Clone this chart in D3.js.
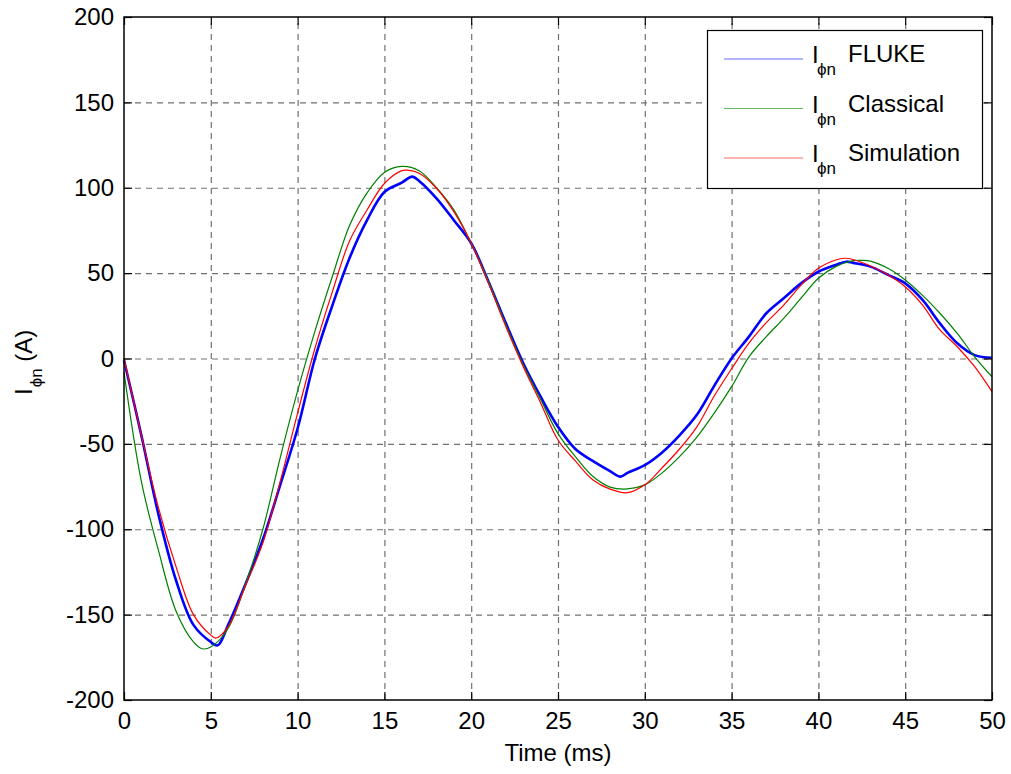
<!DOCTYPE html>
<html><head><meta charset="utf-8">
<script src="https://cdn.jsdelivr.net/npm/d3@7"></script>
<style>
body{margin:0;background:#fff}
svg{display:block}
text{font-family:"Liberation Sans",Arial,Helvetica,sans-serif;fill:#000}
</style>
</head><body>
<svg id="chart" width="1011" height="774"></svg>
<script>
// ---- data ----
const xTicks = [0,5,10,15,20,25,30,35,40,45,50];
const yTicks = [-200,-150,-100,-50,0,50,100,150,200];

const flukeT = [0,1,2,3,4,5,5.4,6,7,8,9,10,11,12,13,14,15,16,16.6,17,18,19,20,21,22,23,24,25,26,27,28,28.6,29,30,31,32,33,34,35,36,37,38,39,40,41,41.6,42,43,44,45,46,47,48,49,50];
const flukeI = [-1,-45,-92,-130,-156,-166,-168,-156,-132,-106,-74,-41,0,31,59,81,97.5,103,106.5,104,93.8,81,67.5,45,20.6,-2.8,-22.4,-40,-53,-60,-66,-69.2,-67,-62.4,-55,-45,-33,-16,0,12.8,26.5,35.3,44,50.8,54.8,56.7,56,53.8,49,44,34.3,20.6,8.9,2,0.4];

const classicalT = [0,1,2,3,4,4.5,5,6,7,8,9,10,11,12,13,14,15,16,17,18,19,20,21,22,23,24,25,26,27,28,29,30,31,32,33,34,35,36,37,38,39,40,41,42,42.5,43,44,45,46,47,48,49,50];
const classicalI = [-8,-72,-113,-148,-166,-170,-169,-158,-132,-100,-58,-19,16,48,78,97,109,112.5,110,100,87,67.5,45,19.6,-3.8,-24,-44,-57.5,-69,-75.3,-76.4,-74,-67,-57.5,-46,-32,-16.5,1,12.8,23.5,35.3,47,53.8,57.3,57.5,57,52.8,46,37,26.5,14.7,1,-10.7];

const simT = [0,1,2,3,4,5,5.3,6,7,8,9,10,11,12,13,14,15,16,16.3,17,18,19,20,21,22,23,24,25,26,27,28,29,30,31,32,33,34,35,36,37,38,39,40,41,41.5,42,43,44,45,46,47,48,49,50];
const simI = [0,-45,-88,-122,-150,-162,-163.7,-157,-133,-108,-72,-32,6,39,69,87,102.5,110,110.3,108.5,99.7,86,67.5,44,18.6,-4.8,-26,-47.7,-60,-71,-76.5,-78.6,-74,-64,-53,-40,-22,-6,9,21,31.3,43,52.8,57.7,58.7,58,54.2,49,42,31.3,16.7,6.9,-4.8,-19.4];

const seriesNames = ["FLUKE","Classical","Simulation"];
const seriesColors = ["#0000ff","#008000","#ff0000"];

// ---- layout ----
const pL = 124, pR = 992, pT = 17, pB = 700;
const svg = d3.select("#chart");
const x = d3.scaleLinear().domain([0,50]).range([pL,pR]);
const y = d3.scaleLinear().domain([-200,200]).range([pB,pT]);

// grid
const grid = svg.append("g");
grid.append("g").attr("transform",`translate(0,${pB})`)
  .call(d3.axisBottom(x).tickValues(xTicks.slice(1,-1)).tickSize(-(pB-pT)).tickFormat(""))
  .call(g=>g.select(".domain").remove());
grid.append("g").attr("transform",`translate(${pL},0)`)
  .call(d3.axisLeft(y).tickValues(yTicks.slice(1,-1)).tickSize(-(pR-pL)).tickFormat(""))
  .call(g=>g.select(".domain").remove());
grid.selectAll("line").attr("stroke","#707070").attr("stroke-width",1.2).attr("stroke-dasharray","6,5");

// series
const line = d3.line().x(d=>x(d[0])).y(d=>y(d[1])).curve(d3.curveCatmullRom.alpha(0.5));
const seriesData = [
  d3.zip(flukeT, flukeI),
  d3.zip(classicalT, classicalI),
  d3.zip(simT, simI)
];
[0,1,2].forEach(i=>{
  svg.append("path").datum(seriesData[i])
    .attr("fill","none").attr("stroke",seriesColors[i])
    .attr("stroke-width", i===0 ? 2.6 : 1.2)
    .attr("stroke-linejoin","round")
    .attr("d",line);
});

// axes with inward ticks
const fs = 24;
const fmt = d => String(d);
const ax = svg.append("g");
ax.append("g").attr("transform",`translate(0,${pB})`)
  .call(d3.axisBottom(x).tickValues(xTicks).tickFormat(fmt).tickSizeInner(-8).tickSizeOuter(0).tickPadding(12));
ax.append("g").attr("transform",`translate(${pL},0)`)
  .call(d3.axisLeft(y).tickValues(yTicks).tickFormat(fmt).tickSizeInner(-8).tickSizeOuter(0).tickPadding(10));
ax.append("g").attr("transform",`translate(0,${pT})`)
  .call(d3.axisTop(x).tickValues(xTicks).tickSizeInner(-8).tickSizeOuter(0).tickFormat(""));
ax.append("g").attr("transform",`translate(${pR},0)`)
  .call(d3.axisRight(y).tickValues(yTicks).tickSizeInner(-8).tickSizeOuter(0).tickFormat(""));
ax.selectAll(".domain").remove();
ax.selectAll("line").attr("stroke","#000").attr("stroke-width",1.2);
ax.selectAll("text").attr("font-size",fs).attr("font-family","'Liberation Sans',Arial,sans-serif").attr("fill","#000");
svg.append("rect").attr("x",pL).attr("y",pT).attr("width",pR-pL).attr("height",pB-pT)
  .attr("fill","none").attr("stroke","#000").attr("stroke-width",1.5);

// axis titles
svg.append("text").attr("x",(pL+pR)/2).attr("y",761).attr("text-anchor","middle")
  .attr("font-size",fs).text("Time (ms)");
const yl = svg.append("text").attr("transform","translate(32,395) rotate(-90)").attr("font-size",fs);
yl.append("tspan").text("I");
yl.append("tspan").attr("font-size",17).attr("dy",10).attr("dx",1).text("\u03D5n");
yl.append("tspan").attr("dy",-10).text(" (A)");

// legend
const lg = svg.append("g");
lg.append("rect").attr("x",707.5).attr("y",30.5).attr("width",275).attr("height",158)
  .attr("fill","#fff").attr("stroke","#000").attr("stroke-width",1.2);
const rowsY = [59,108.5,158];
seriesNames.forEach((n,i)=>{
  lg.append("line").attr("x1",724).attr("x2",803).attr("y1",rowsY[i]).attr("y2",rowsY[i])
    .attr("stroke",seriesColors[i]).attr("stroke-width",1).attr("stroke-opacity",0.6);
  lg.append("text").attr("x",812).attr("y",rowsY[i]+4).attr("font-size",fs).text("I");
  lg.append("text").attr("x",817).attr("y",rowsY[i]+16).attr("font-size",17).text("\u03D5n");
  lg.append("text").attr("x",848).attr("y",rowsY[i]+3).attr("font-size",fs).text(n);
});
</script>
</body></html>
